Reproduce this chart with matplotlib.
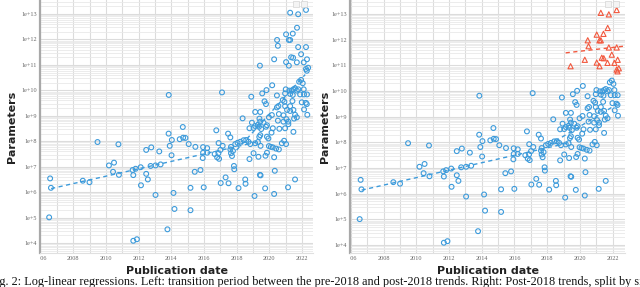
import numpy as np
import matplotlib
matplotlib.use("Agg")
import matplotlib.pyplot as plt
from matplotlib.patches import Rectangle
from matplotlib.transforms import Bbox, TransformedBbox

# publication year and log10(parameter count)
years = [
    2021.28, 2021.77, 2022.25, 2021.70, 2021.03, 2021.44, 2020.48, 2021.20, 2021.28, 2020.53,
    2021.77, 2022.25, 2021.95, 2021.34, 2021.46, 2020.30, 2022.31, 2021.03, 2021.69, 2019.43,
    2021.20, 2022.11, 2022.25, 2022.38, 2022.30, 2021.95, 2021.83, 2022.05, 2020.18, 2019.57,
    2019.83, 2021.01, 2021.23, 2021.48, 2021.38, 2021.58, 2021.69, 2021.78, 2021.28, 2021.44,
    2021.89, 2020.97, 2022.11, 2022.31, 2022.13, 2020.47, 2018.90, 2017.11, 2013.85, 2019.71,
    2019.80, 2020.83, 2020.93, 2021.42, 2020.47, 2020.56, 2020.97, 2021.28, 2021.99, 2022.24,
    2022.30, 2022.13, 2021.09, 2021.28, 2021.48, 2019.14, 2019.45, 2020.59, 2020.87, 2021.58,
    2021.69, 2021.52, 2022.33, 2018.37, 2019.40, 2019.45, 2019.98, 2020.16, 2021.05, 2021.17,
    2020.53, 2018.94, 2019.14, 2019.31, 2019.65, 2020.87, 2019.80, 2019.86, 2020.22, 2020.62,
    2020.97, 2018.79, 2019.04, 2019.37, 2019.51, 2021.17, 2021.48, 2020.14, 2019.45, 2019.39,
    2019.86, 2019.95, 2014.71, 2013.84, 2016.76, 2017.48, 2017.62, 2009.49, 2010.77, 2014.04,
    2014.52, 2014.73, 2014.87, 2015.07, 2013.91, 2012.47, 2012.78, 2015.48, 2015.95, 2016.20,
    2016.90, 2017.15, 2017.66, 2017.92, 2018.23, 2018.06, 2018.43, 2018.59, 2018.84, 2018.73,
    2019.31, 2019.14, 2019.47, 2019.98, 2020.10, 2020.91, 2021.03, 2020.77, 2020.42, 2006.59,
    2006.64, 2006.53, 2008.59, 2009.00, 2010.19, 2010.50, 2010.44, 2010.80, 2011.64, 2011.68,
    2013.27, 2012.47, 2012.57, 2012.15, 2013.04, 2014.02, 2014.14, 2014.20, 2013.77, 2011.68,
    2011.90, 2015.44, 2015.79, 2015.18, 2015.18, 2015.95, 2015.93, 2016.20, 2015.99, 2016.66,
    2016.81, 2016.89, 2016.93, 2017.01, 2017.62, 2017.66, 2017.72, 2017.78, 2017.03, 2017.51,
    2017.33, 2017.84, 2017.86, 2018.12, 2018.53, 2018.55, 2018.79, 2019.04, 2019.34, 2019.10,
    2019.43, 2019.47, 2019.75, 2019.77, 2019.86, 2020.22, 2020.30, 2020.30, 2020.34, 2020.59,
    2021.15, 2021.58, 2011.82, 2012.13, 2012.74, 2013.04, 2013.35,
]
log_params = [
    13.05, 12.99, 13.16, 12.46, 12.20, 12.23, 11.98, 11.98, 11.98, 11.75,
    11.70, 11.70, 11.42, 11.30, 11.28, 11.22, 11.22, 11.11, 11.10, 10.97,
    10.97, 11.10, 10.84, 10.89, 10.77, 10.41, 10.34, 10.28, 10.20, 9.88,
    10.01, 10.04, 9.99, 10.04, 9.99, 10.08, 9.99, 10.04, 9.86, 9.82,
    9.84, 9.88, 10.04, 9.84, 9.84, 9.80, 9.75, 9.92, 9.82, 9.57,
    9.46, 9.62, 9.55, 9.58, 9.33, 9.38, 9.38, 9.38, 9.53, 9.51,
    9.46, 9.25, 9.23, 9.19, 9.23, 9.15, 9.15, 9.07, 9.02, 9.04,
    8.94, 8.89, 9.04, 8.90, 8.89, 8.77, 8.94, 9.03, 8.87, 8.77,
    8.81, 8.73, 8.60, 8.65, 8.73, 8.77, 8.57, 8.63, 8.51, 8.49,
    8.51, 8.51, 8.52, 8.57, 8.48, 8.67, 8.37, 8.34, 8.24, 8.17,
    8.18, 8.11, 8.56, 8.30, 8.43, 8.30, 8.15, 7.97, 7.88, 8.05,
    8.08, 8.14, 8.13, 7.89, 7.82, 7.66, 7.76, 7.78, 7.77, 7.73,
    7.93, 7.82, 7.78, 7.89, 7.98, 7.94, 8.04, 8.05, 7.89, 7.98,
    7.97, 7.92, 7.82, 7.81, 7.78, 8.02, 7.89, 7.92, 7.71, 6.54,
    6.17, 5.01, 6.45, 6.39, 7.05, 7.16, 6.80, 6.68, 6.87, 6.67,
    7.60, 6.72, 6.50, 6.27, 5.89, 7.45, 5.97, 5.34, 4.54, 4.09,
    4.15, 6.80, 6.87, 6.17, 5.29, 7.55, 7.34, 7.55, 6.19, 7.50,
    7.37, 7.53, 7.31, 7.66, 7.68, 7.53, 7.42, 7.62, 6.36, 6.35,
    6.58, 7.03, 6.90, 6.16, 6.50, 6.33, 7.30, 7.53, 7.39, 5.85,
    6.68, 6.66, 6.15, 7.43, 7.55, 7.76, 7.37, 5.93, 6.84, 7.68,
    6.19, 6.50, 6.92, 6.98, 7.03, 7.05, 7.09,
]

# trend lines (endpoints, log10 params)
pre_years, pre_log = [2006.65, 2019.45], [6.14, 8.0]
left_post_years, left_post_log = [2018.0, 2022.2], [7.65, 10.62]
right_post_years, right_post_log = [2018.1, 2022.3], [7.9, 9.5]
large_years, large_log = [2019.13, 2022.7], [11.49, 11.75]
size_split = 10.5

year_ticks = list(range(2006, 2023, 2))
year_labels = [str(y) for y in year_ticks]
decades = list(range(4, 14))
decade_labels = ["1e+%d" % d for d in decades]

blue = "#3d9bdb"
red = "#f2583e"

yrs = np.array(years)
lp = np.array(log_params)
params = 10.0 ** lp
big = lp > size_split

fig = plt.figure(figsize=(6.4, 2.87), dpi=100)
ax1 = fig.add_axes([0.0625, 0.1185, 0.4266, 0.8815])
ax2 = fig.add_axes([0.5469, 0.1185, 0.4297, 0.8815])


def style(ax, xlim, ylim):
    ax.set_yscale("log")
    ax.set_xticks(year_ticks)
    ax.set_xticklabels(year_labels)
    ax.set_xticks(range(2007, 2023, 2), minor=True)
    ax.set_yticks([10.0 ** d for d in decades])
    ax.set_yticklabels(decade_labels)
    minors = [m * 10.0 ** d for d in range(3, 14) for m in range(2, 10)]
    ax.set_yticks(minors, minor=True)
    ax.yaxis.set_minor_formatter(plt.NullFormatter())
    ax.set_xlim(*xlim)
    ax.set_ylim(*ylim)
    ax.grid(True, which="major", color="#dcdcdc", lw=0.8)
    ax.grid(True, which="minor", axis="y", color="#e9e9e9", lw=0.6)
    ax.grid(True, which="minor", axis="x", color="#dcdcdc", lw=0.8)
    ax.set_axisbelow(True)
    ax.tick_params(which="both", length=0, labelsize=4.4, labelcolor="#666666", pad=2)
    for t in ax.get_xticklabels() + ax.get_yticklabels():
        t.set_family("Liberation Serif")
    for s in ["top", "right"]:
        ax.spines[s].set_visible(False)
    ax.spines["bottom"].set_color("#e0e0e0")
    ax.spines["bottom"].set_linewidth(0.8)
    ax.spines["left"].set_color("#a8a8a8")
    ax.spines["left"].set_linewidth(1.6)
    ax.set_xlabel("Publication date", fontsize=8, fontweight="bold", color="#222222")
    ax.set_ylabel("Parameters", fontsize=8, fontweight="bold", color="#222222")
    # "2006" gets cut at the left edge of the plot
    clip = TransformedBbox(Bbox([[0, -0.2], [1.1, 1.0]]), ax.transAxes)
    for t in ax.get_xticklabels():
        t.set_clip_on(True)
        t.set_clip_box(clip)
    # small toolbar boxes top right
    for x0 in (0.928, 0.956):
        ax.add_patch(Rectangle((x0, 0.973), 0.022, 0.022, transform=ax.transAxes,
                               facecolor="#f4f4f4", edgecolor="#d4d4d4", lw=0.5,
                               clip_on=False, zorder=5))


style(ax1, (2005.97, 2022.68), (10 ** 3.61, 10 ** 13.55))
style(ax2, (2005.94, 2022.76), (10 ** 3.69, 10 ** 13.55))
ax1.xaxis.set_label_coords(0.5, -0.052)
ax2.xaxis.set_label_coords(0.5, -0.052)
ax1.yaxis.set_label_coords(-0.085, 0.5)
ax2.yaxis.set_label_coords(-0.071, 0.5)

dash = (0, (3, 2.5))

# left: all models, transition period
ax1.scatter(yrs, params, s=12, facecolors="none", edgecolors=blue, linewidths=0.8, zorder=3)
ax1.plot(pre_years, 10.0 ** np.array(pre_log), ls=dash, color=blue, lw=1.0, zorder=2)
ax1.plot(left_post_years, 10.0 ** np.array(left_post_log), ls=dash, color=blue, lw=1.0, zorder=2)

# right: post-2018 trends split by size
ax2.scatter(yrs[~big], params[~big], s=12, facecolors="none", edgecolors=blue, linewidths=0.8, zorder=3)
ax2.scatter(yrs[big], params[big], s=14, marker="^", facecolors="none", edgecolors=red, linewidths=0.8, zorder=3)
ax2.plot(pre_years, 10.0 ** np.array(pre_log), ls=dash, color=blue, lw=1.0, zorder=2)
ax2.plot(right_post_years, 10.0 ** np.array(right_post_log), ls=dash, color=blue, lw=1.0, zorder=2)
ax2.plot(large_years, 10.0 ** np.array(large_log), ls=dash, color=red, lw=1.0, zorder=2)

fig.text(-0.017, 0.008,
         "Fig. 2: Log-linear regressions. Left: transition period between the pre-2018 and "
         "post-2018 trends. Right: Post-2018 trends, split by size",
         family="Liberation Serif", fontsize=8.8, ha="left", va="baseline", color="#111111")

fig.savefig("out.png", dpi=100)
